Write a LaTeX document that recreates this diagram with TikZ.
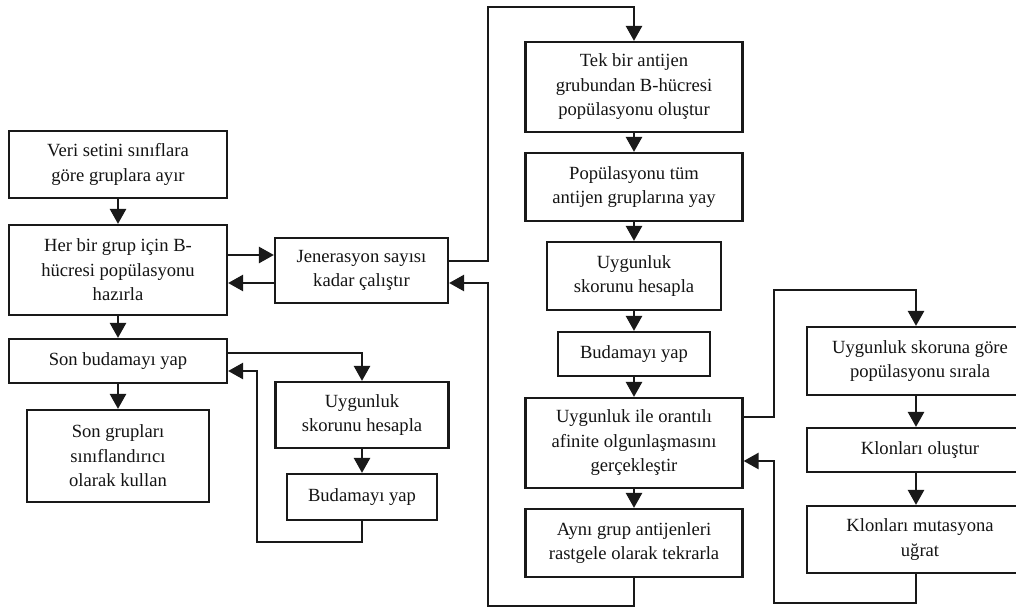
\documentclass[tikz,border=0pt]{standalone}
\usepackage{fontspec}
\setmainfont{Liberation Serif}
\usetikzlibrary{arrows.meta}
\begin{document}
\begin{tikzpicture}[x=1pt,y=-1pt,
  box/.style={draw=black!90, line width=2.2pt, align=center, inner sep=0pt,
    font=\fontsize{18.6}{24.5}\selectfont, text=black!92},
  arr/.style={draw=black!90, line width=2.6pt,
    -{Triangle[length=15pt,width=16pt]}}]
\useasboundingbox (0,0) rectangle (1016,608);
\clip (0,0) rectangle (1016,608);
\fill[white] (0,0) rectangle (1016,608);

% left column
\node[box, minimum width=218, minimum height=67] (A) at (118,164.5) {Veri setini sınıflara\\göre gruplara ayır};
\node[box, minimum width=218, minimum height=90] (B) at (118,270) {Her bir grup için B-\\hücresi popülasyonu\\hazırla};
\node[box, minimum width=218, minimum height=44] (S) at (118,361) {Son budamayı yap};
\node[box, minimum width=182, minimum height=92] (SG) at (118,456) {Son grupları\\sınıflandırıcı\\olarak kullan};

% middle column
\node[box, minimum width=173, minimum height=65] (J) at (361.5,270.5) {Jenerasyon sayısı\\kadar çalıştır};
\node[box, minimum width=173, minimum height=66] (U1) at (362,415) {Uygunluk\\skorunu hesapla};
\node[box, minimum width=150, minimum height=46] (Bud1) at (362,497) {Budamayı yap};

% antigen group column
\node[box, minimum width=217, minimum height=90] (T) at (634,87) {Tek bir antijen\\grubundan B-hücresi\\popülasyonu oluştur};
\node[box, minimum width=217, minimum height=68] (P) at (634,187) {Popülasyonu tüm\\antijen gruplarına yay};
\node[box, minimum width=174, minimum height=68] (U2) at (634,276) {Uygunluk\\skorunu hesapla};
\node[box, minimum width=152, minimum height=44] (Bud2) at (634,354) {Budamayı yap};
\node[box, minimum width=217, minimum height=90] (UO) at (634,443) {Uygunluk ile orantılı\\afinite olgunlaşmasını\\gerçekleştir};
\node[box, minimum width=217, minimum height=68] (AG) at (634,543) {Aynı grup antijenleri\\rastgele olarak tekrarla};

% clone column
\node[box, minimum width=226, minimum height=68] (US) at (920,361) {Uygunluk skoruna göre\\popülasyonu sırala};
\node[box, minimum width=226, minimum height=44] (KO) at (920,450) {Klonları oluştur};
\node[box, minimum width=226, minimum height=67] (KM) at (920,539.5) {Klonları mutasyona\\uğrat};

% routing corners
\coordinate (c1) at (488,7);
\coordinate (c2) at (488,606);
\coordinate (c3) at (257,542);
\coordinate (c4) at (774,290);
\coordinate (c5) at (774,603);

% left column flow
\draw[arr] (A.south) -- (B.north);
\draw[arr] (B.south) -- (S.north);
\draw[arr] (S.south) -- (SG.north);
\draw[arr] ([yshift=15pt]B.east) -- ([yshift=15pt]B.east -| J.west);
\draw[arr] ([yshift=-12.5pt]J.west) -- ([yshift=-12.5pt]J.west -| B.east);

% final pruning loop
\draw[arr] ([yshift=8pt]S.east) -| (U1.north);
\draw[arr] (U1.south) -- (Bud1.north);
\draw[arr] (Bud1.south) |- (c3) |- ([yshift=-10pt]S.east);

% generation loop
\draw[arr] ([yshift=9.5pt]J.east) -| (c1) -| (T.north);
\draw[arr] (T.south) -- (P.north);
\draw[arr] (P.south) -- (U2.north);
\draw[arr] (U2.south) -- (Bud2.north);
\draw[arr] (Bud2.south) -- (UO.north);
\draw[arr] (UO.south) -- (AG.north);
\draw[arr] (AG.south) |- (c2) |- ([yshift=-12.5pt]J.east);

% affinity maturation loop
\draw[arr] ([yshift=26pt]UO.east) -| (c4) -| ([xshift=-4pt]US.north);
\draw[arr] ([xshift=-4pt]US.south) -- ([xshift=-4pt]KO.north);
\draw[arr] ([xshift=-4pt]KO.south) -- ([xshift=-4pt]KM.north);
\draw[arr] ([xshift=-4pt]KM.south) |- (c5) |- ([yshift=-18pt]UO.east);
\end{tikzpicture}
\end{document}
